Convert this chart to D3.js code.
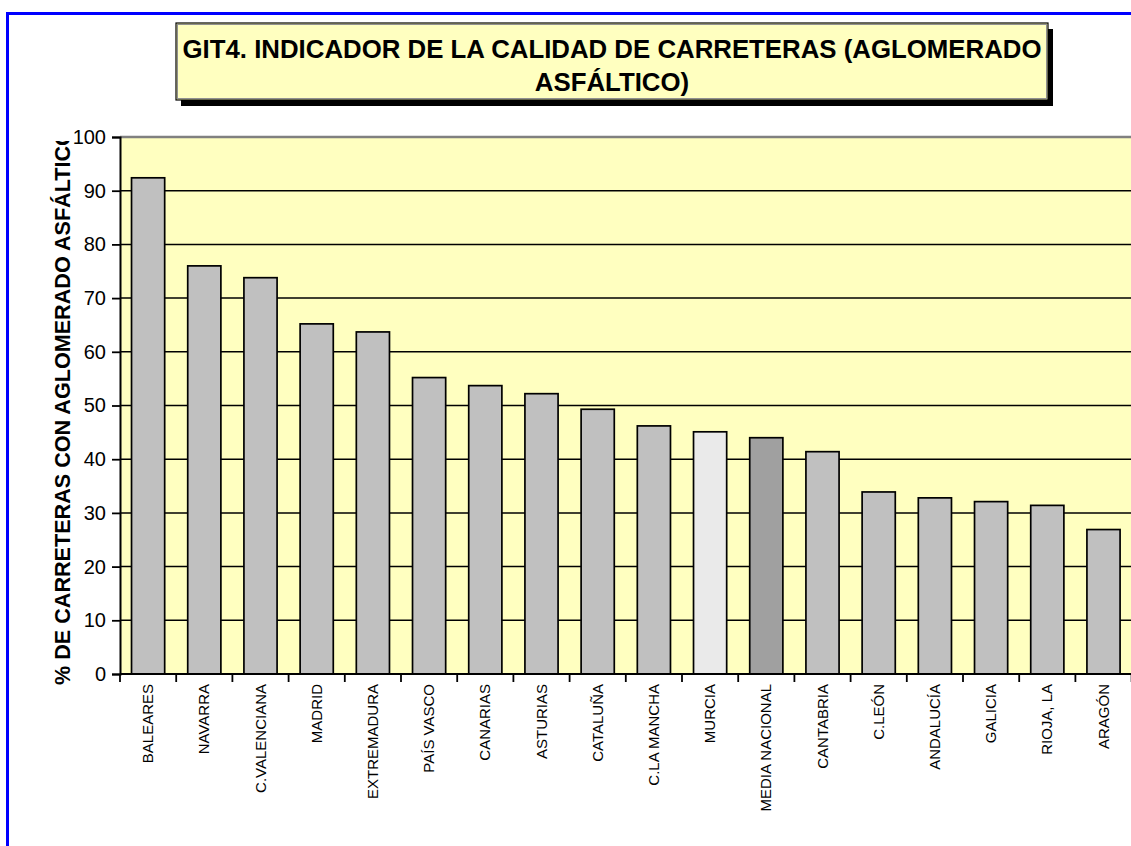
<!DOCTYPE html>
<html>
<head>
<meta charset="utf-8">
<script src="https://cdn.jsdelivr.net/npm/d3@7"></script>
<style>
  body { margin: 0; background: #fff; }
  svg { display: block; font-family: Arial, "Liberation Sans", sans-serif; }
</style>
</head>
<body>
<div id="chart"></div>
<script>
// datos
const regiones = ["BALEARES", "NAVARRA", "C.VALENCIANA", "MADRID", "EXTREMADURA", "PAÍS VASCO",
  "CANARIAS", "ASTURIAS", "CATALUÑA", "C.LA MANCHA", "MURCIA", "MEDIA NACIONAL",
  "CANTABRIA", "C.LEÓN", "ANDALUCÍA", "GALICIA", "RIOJA, LA", "ARAGÓN"];
const porcentajes = [92.4, 76.0, 73.8, 65.2, 63.7, 55.2, 53.7, 52.2, 49.3, 46.2, 45.1, 44.0,
  41.4, 33.9, 32.8, 32.1, 31.4, 26.9];
const yTicks = [0, 10, 20, 30, 40, 50, 60, 70, 80, 90, 100];
const tituloLineas = ["GIT4. INDICADOR DE LA CALIDAD DE CARRETERAS (AGLOMERADO", "ASFÁLTICO)"];
const yTitulo = "% DE CARRETERAS CON AGLOMERADO ASFÁLTICO";

const width = 1131, height = 846;
const plot = { left: 120, right: 1131.6, top: 137, bottom: 674 };

const svg = d3.select("#chart").append("svg")
  .attr("width", width)
  .attr("height", height);

// marco azul
svg.append("path")
  .attr("d", `M7.5,${height + 5} L7.5,13.5 L${width + 5},13.5`)
  .attr("fill", "none")
  .attr("stroke", "#0000ff")
  .attr("stroke-width", 3);

const x = d3.scaleBand()
  .domain(regiones)
  .range([plot.left, plot.right])
  .paddingInner(0.41)
  .paddingOuter(0.205);

const y = d3.scaleLinear()
  .domain([0, 100])
  .range([plot.bottom, plot.top]);

// fondo del area de trazado
svg.append("rect")
  .attr("x", plot.left)
  .attr("y", y(100))
  .attr("width", plot.right - plot.left)
  .attr("height", y(0) - y(100))
  .attr("fill", "#ffffc0");

// lineas de division
svg.append("g")
  .selectAll("line")
  .data(yTicks.filter(d => d > 0))
  .enter()
  .append("line")
  .attr("x1", plot.left)
  .attr("x2", plot.right)
  .attr("y1", d => y(d))
  .attr("y2", d => y(d))
  .attr("stroke", d => d === 100 ? "#808080" : "#000")
  .attr("stroke-width", d => d === 100 ? 2.5 : 1.5);

// barras
const colorBarra = d => d === "MURCIA" ? "#eaeaea" : d === "MEDIA NACIONAL" ? "#a0a0a0" : "#c0c0c0";
svg.append("g")
  .selectAll("rect")
  .data(regiones)
  .enter()
  .append("rect")
  .attr("x", d => x(d))
  .attr("y", (d, i) => y(porcentajes[i]))
  .attr("width", x.bandwidth())
  .attr("height", (d, i) => y(0) - y(porcentajes[i]))
  .attr("fill", d => colorBarra(d))
  .attr("stroke", "#000")
  .attr("stroke-width", 1.7);

// eje Y
const yAxis = svg.append("g")
  .attr("transform", `translate(${plot.left},0)`)
  .call(d3.axisLeft(y).tickValues(yTicks).tickSize(8).tickPadding(6));
yAxis.select(".domain").attr("stroke", "#000").attr("stroke-width", 2);
yAxis.selectAll(".tick line").attr("stroke", "#000").attr("stroke-width", 1.8);
yAxis.selectAll(".tick text")
  .style("font-size", "20px")
  .style("font-family", "Arial, 'Liberation Sans', sans-serif")
  .attr("fill", "#000");

// eje X (marcas entre categorias)
const bordes = d3.range(regiones.length + 1).map(i => x.range()[0] + i * x.step());
svg.append("line")
  .attr("x1", plot.left)
  .attr("x2", plot.right)
  .attr("y1", y(0))
  .attr("y2", y(0))
  .attr("stroke", "#000")
  .attr("stroke-width", 2);
svg.append("g")
  .selectAll("line")
  .data(bordes)
  .enter()
  .append("line")
  .attr("x1", d => d)
  .attr("x2", d => d)
  .attr("y1", y(0))
  .attr("y2", y(0) + 8)
  .attr("stroke", "#000")
  .attr("stroke-width", 1.8);

svg.append("g")
  .selectAll("text")
  .data(regiones)
  .enter()
  .append("text")
  .attr("transform", d => `translate(${x(d) + x.bandwidth() / 2 + 5},${y(0) + 10}) rotate(-90)`)
  .attr("text-anchor", "end")
  .style("font-size", "15px")
  .attr("fill", "#000")
  .text(d => d);

// titulo del eje Y (recortado arriba como en el original)
svg.append("clipPath")
  .attr("id", "clipY")
  .append("rect")
  .attr("x", 30)
  .attr("y", 141)
  .attr("width", 60)
  .attr("height", 600);
svg.append("g")
  .attr("clip-path", "url(#clipY)")
  .append("text")
  .attr("transform", `translate(70,685) rotate(-90)`)
  .attr("text-anchor", "start")
  .style("font-size", "21.6px")
  .style("font-weight", "bold")
  .attr("fill", "#000")
  .text(yTitulo);

// caja del titulo
const caja = { x: 176, y: 23, w: 872, h: 77 };
svg.append("rect")
  .attr("x", caja.x + 5)
  .attr("y", caja.y + 6)
  .attr("width", caja.w)
  .attr("height", caja.h)
  .attr("fill", "#000");
svg.append("rect")
  .attr("x", caja.x)
  .attr("y", caja.y)
  .attr("width", caja.w)
  .attr("height", caja.h)
  .attr("fill", "#ffffc0")
  .attr("stroke", "#000")
  .attr("stroke-width", 1.2);
svg.append("rect")
  .attr("x", caja.x + 1.5)
  .attr("y", caja.y + 1.5)
  .attr("width", caja.w - 3)
  .attr("height", caja.h - 3)
  .attr("fill", "none")
  .attr("stroke", "#909090")
  .attr("stroke-width", 1);

svg.append("g")
  .selectAll("text")
  .data(tituloLineas)
  .enter()
  .append("text")
  .attr("x", caja.x + caja.w / 2)
  .attr("y", (d, i) => 58 + i * 33)
  .attr("text-anchor", "middle")
  .style("font-size", "25.8px")
  .style("font-weight", "bold")
  .attr("fill", "#000")
  .text(d => d);
</script>
</body>
</html>
